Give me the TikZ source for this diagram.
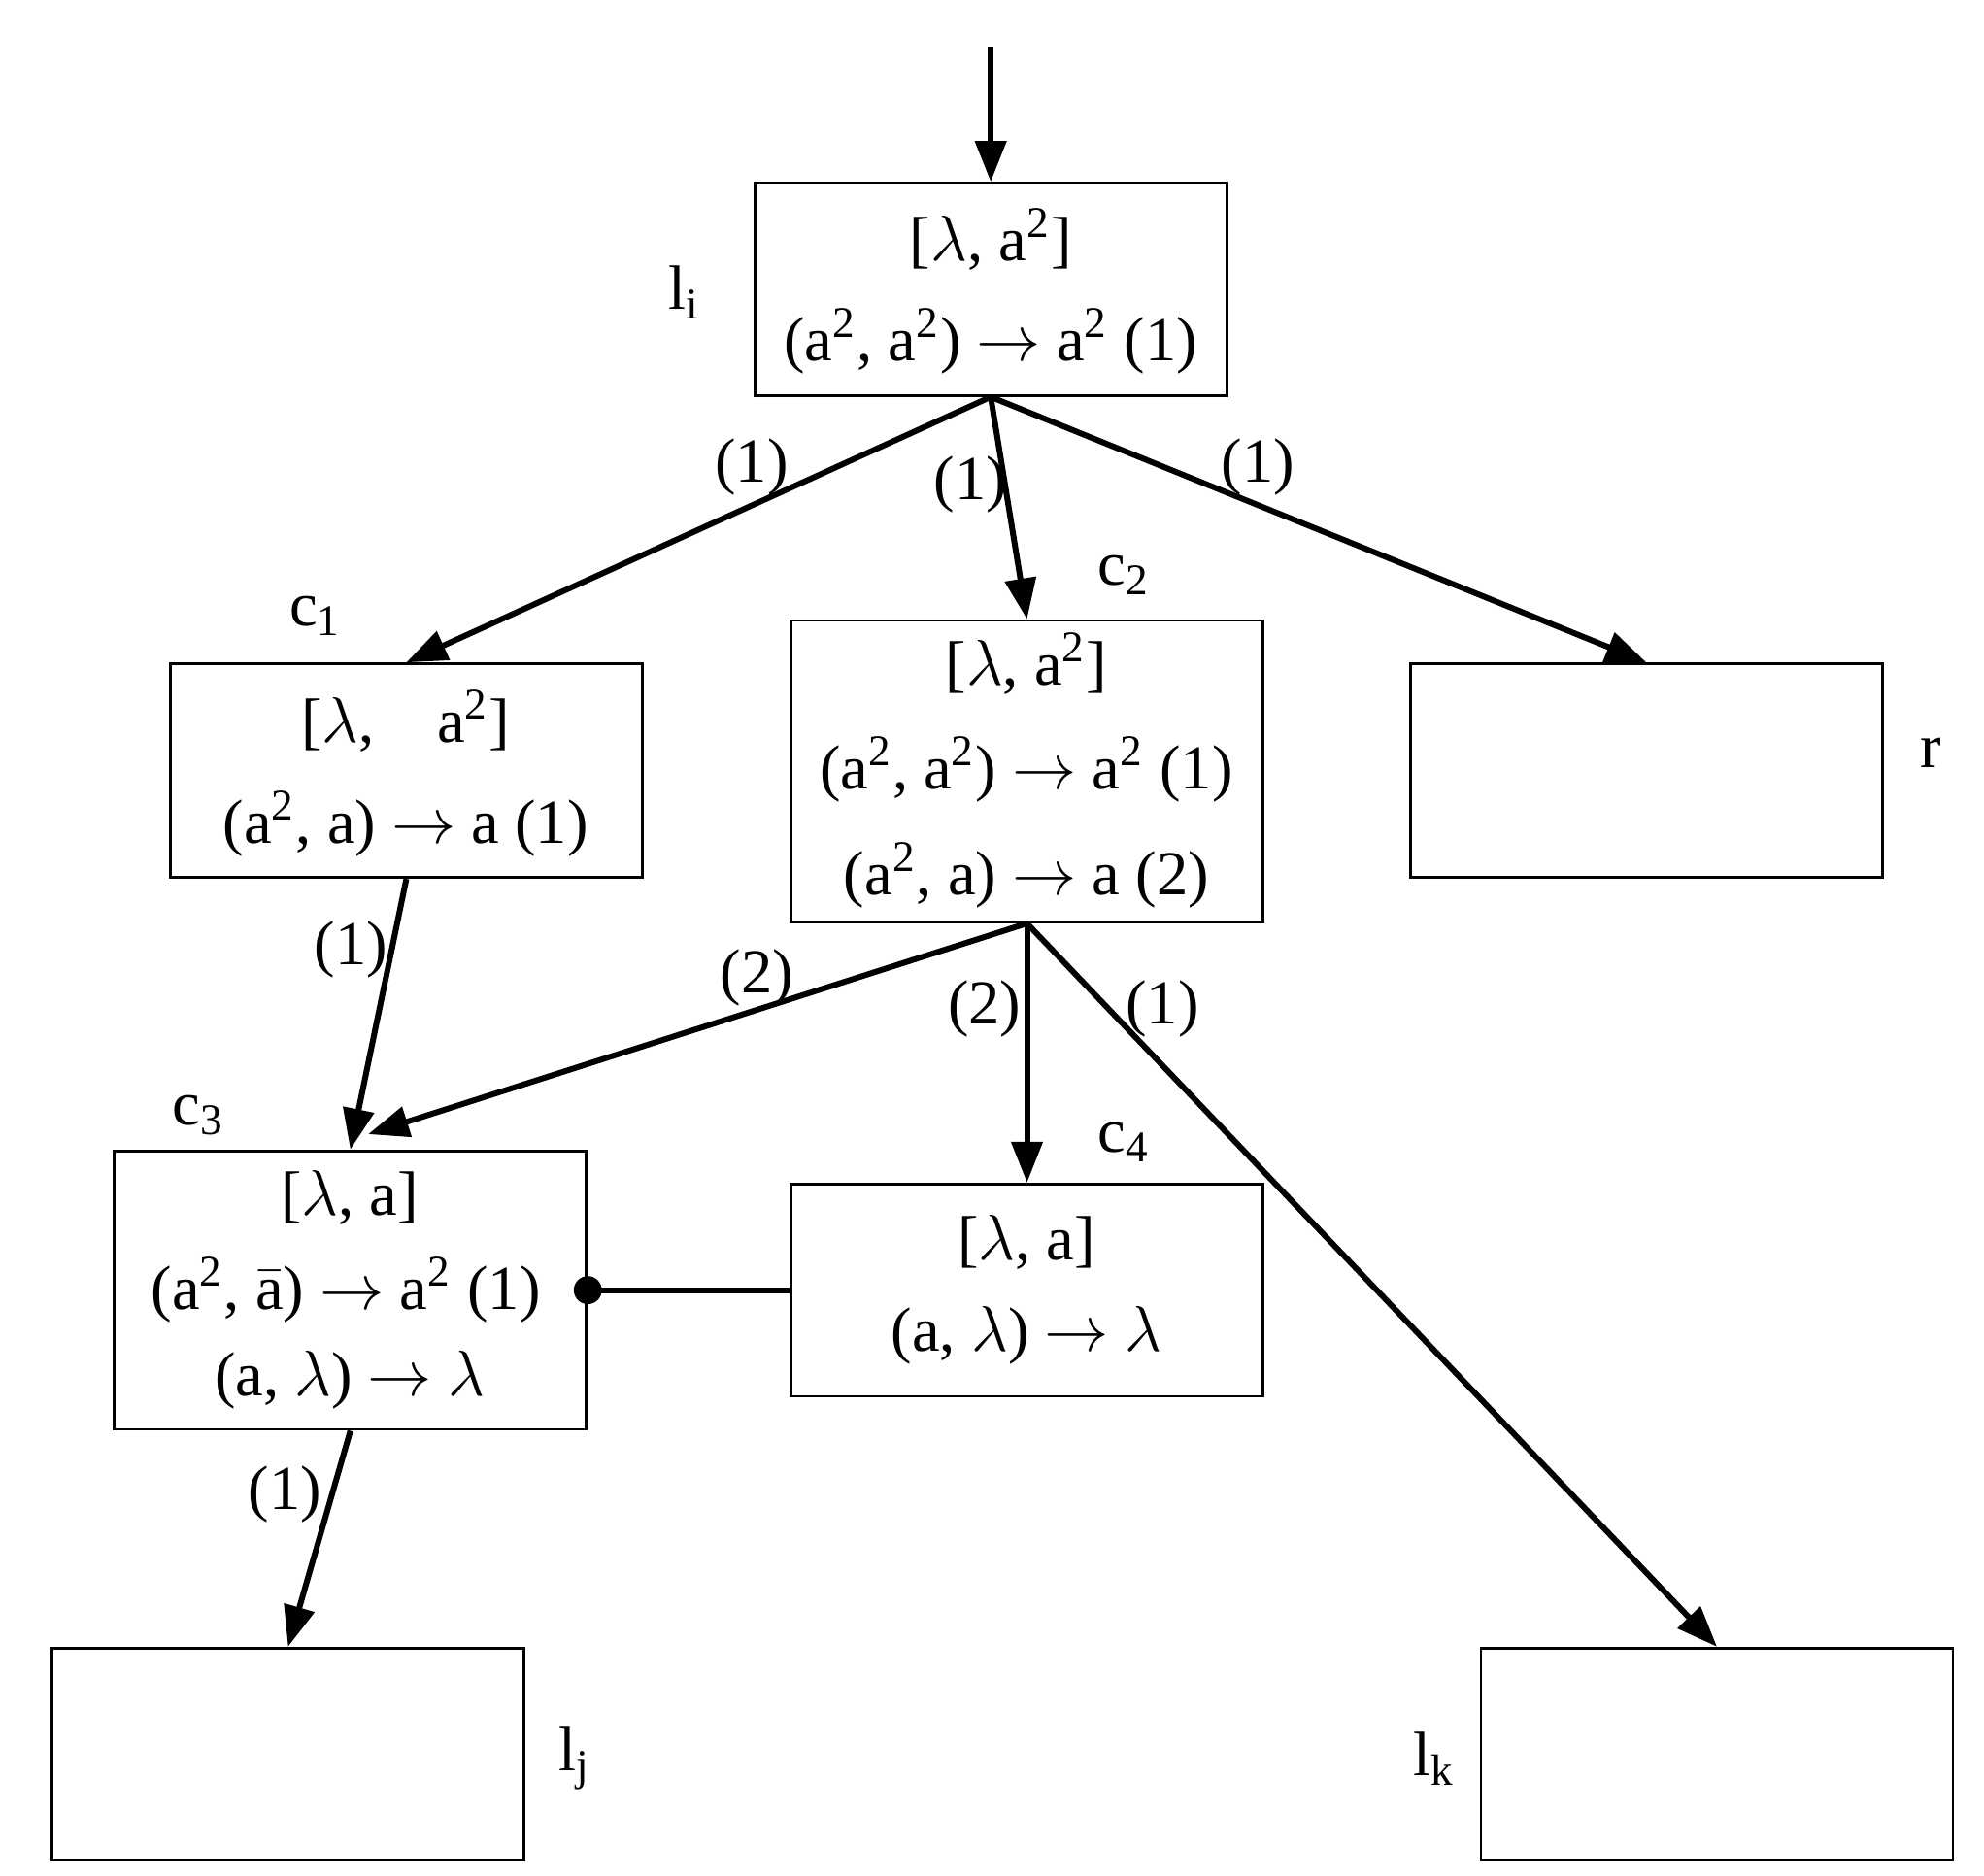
\documentclass[tikz,border=0pt]{standalone}
\usepackage{fontspec}
\setmainfont{Liberation Serif}
\usetikzlibrary{arrows.meta,calc}
\newcommand{\lam}{$\lambda$}
\newcommand{\ra}{$\rightarrow$}
\newcommand{\sq}{\textsuperscript{2}}
\begin{document}
\begin{tikzpicture}[x=0.01cm,y=-0.01cm,
 box/.style={draw,line width=0.6pt,minimum width=3.71cm,inner sep=0},
 arr/.style={line width=1.3pt,-{Triangle[length=0.32cm,width=0.24cm]}},
 lab/.style={font=\fontsize{14}{17}\selectfont},
 txt/.style={font=\fontsize{14}{17}\selectfont}]
\useasboundingbox (0,0) rectangle (1560,1475);
\node[box,minimum height=1.67cm] (li) at (779,227.5) {};
\node[box,minimum height=1.68cm] (c1) at (319.5,606) {};
\node[box,minimum height=2.37cm] (c2) at (807.5,606.5) {};
\node[box,minimum height=1.68cm] (r) at (1294.5,606) {};
\node[box,minimum height=2.19cm] (c3) at (275.5,1014.5) {};
\node[box,minimum height=1.67cm] (c4) at (807.5,1014.5) {};
\node[box,minimum height=1.67cm] (lj) at (226.5,1379.5) {};
\node[box,minimum height=1.67cm] (lk) at (1350,1379.5) {};
\coordinate (in) at (779,37);
% box texts
\node[txt] (t1) at (779,188) {[\lam, a\sq]};
\node[txt] (t2) at (779,268) {(a\sq, a\sq) \ra\ a\sq\ (1)};
\node[txt] (t3) at (319,567) {[\lam,\quad a\sq]};
\node[txt] (t4) at (319,648) {(a\sq, a) \ra\ a (1)};
\node[txt] (t5) at (807,522) {[\lam, a\sq]};
\node[txt] (t6) at (807,605) {(a\sq, a\sq) \ra\ a\sq\ (1)};
\node[txt] (t7) at (807,688) {(a\sq, a) \ra\ a (2)};
\node[txt] (t8) at (275,942) {[\lam, a]};
\node[txt] (t9) at (272,1014) {(a\sq, $\bar{\mathrm{a}}$) \ra\ a\sq\ (1)};
\node[txt] (t10) at (275,1085) {(a, \lam) \ra\ \lam};
\node[txt] (t11) at (807,977) {[\lam, a]};
\node[txt] (t12) at (807,1050) {(a, \lam) \ra\ \lam};
% node labels
\node[lab] (nli) at (538,230) {l\textsubscript{i}};
\node[lab] (nc1) at (248,484) {c\textsubscript{1}};
\node[lab] (nc2) at (884,452) {c\textsubscript{2}};
\node[lab] (nr) at (1518,592) {r};
\node[lab] (nc3) at (156,877) {c\textsubscript{3}};
\node[lab] (nc4) at (884,898) {c\textsubscript{4}};
\node[lab] (nlj) at (452,1383) {l\textsubscript{j}};
\node[lab] (nlk) at (1128,1383) {l\textsubscript{k}};
% edges
\draw[arr] (in) -- (li.north);
\draw[arr] (li.south) -- (c1.north);
\draw[arr] (li.south) -- (c2.north);
\draw[arr] (li.south) -- (r.north);
\draw[arr] (c1.south) -- (c3.north);
\draw[arr] (c2.south) -- ($(c3.north)+(14,-12)$);
\draw[arr] (c2.south) -- (c4.north);
\draw[arr] (c2.south) -- (lk.north);
\draw[arr] (c3.south) -- (lj.north);
\draw[line width=1.3pt] (c4.west) -- (c3.east);
\fill (c3.east) circle (0.11cm);
% edge labels
\node[lab] (e1) at (591,367) {(1)};
\node[lab] (e2) at (763,381) {(1)};
\node[lab] (e3) at (989,367) {(1)};
\node[lab] (e4) at (276,747) {(1)};
\node[lab] (e5) at (595,769) {(2)};
\node[lab] (e6) at (774,793) {(2)};
\node[lab] (e7) at (914,793) {(1)};
\node[lab] (e8) at (224,1175) {(1)};
\end{tikzpicture}
\end{document}
